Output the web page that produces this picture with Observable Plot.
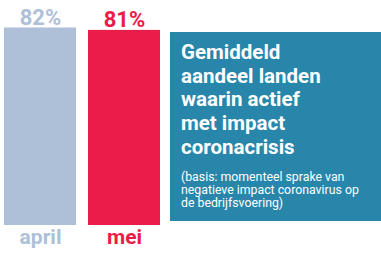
<!DOCTYPE html>
<html><head><meta charset="utf-8">
<script src="https://cdn.jsdelivr.net/npm/d3@7"></script>
<script src="https://cdn.jsdelivr.net/npm/@observablehq/plot@0.6"></script>
<style>
body{margin:0;background:#fff;}
#wrap{position:relative;width:381px;height:255px;overflow:hidden;font-family:Roboto,sans-serif;}
#chart{position:absolute;left:0;top:0;}
#box{position:absolute;left:170px;top:32px;width:211px;height:189px;background:#2886aa;color:#fff;box-sizing:border-box;padding:9px 4px 0 11px;white-space:nowrap;}
#title{font-weight:700;font-size:20.5px;line-height:23.7px;}
#sub{font-size:12.3px;line-height:13px;margin-top:11px;}
</style></head>
<body><div id="wrap"><div id="chart"></div>
<div id="box"><div id="title">Gemiddeld<br>aandeel landen<br>waarin actief<br>met impact<br>coronacrisis</div>
<div id="sub">(basis: momenteel sprake van<br>negatieve impact coronavirus op<br>de bedrijfsvoering)</div></div></div>
<script>
const months = ["april", "mei"];
const values = [82, 81];
const labels = ["82%", "81%"];
const colors = ["#aec0d8", "#eb1c49"];
const data = months.map((m, i) => ({month: m, value: values[i], label: labels[i], color: colors[i]}));
const plot = Plot.plot({
  width: 170, height: 255,
  marginLeft: 0, marginRight: 0, marginTop: 0, marginBottom: 0,
  x: {domain: months, range: [4, 160], paddingInner: 0.143, paddingOuter: 0, axis: null},
  y: {domain: [0, 82], range: [225, 27.5], axis: null},
  style: {fontFamily: "Roboto, sans-serif", background: "transparent"},
  marks: [
    Plot.barY(data, {x: "month", y: "value", fill: "color"}),
    Plot.text(data, {x: "month", y: "value", text: "label", fill: "color", fontSize: 22, fontWeight: 700, lineAnchor: "bottom", dy: -3}),
    Plot.text(data, {x: "month", y: () => 0, text: "month", fill: "color", fontSize: 21, fontWeight: 700, lineAnchor: "top", dy: 4})
  ]
});
document.getElementById("chart").appendChild(plot);
</script></body></html>
